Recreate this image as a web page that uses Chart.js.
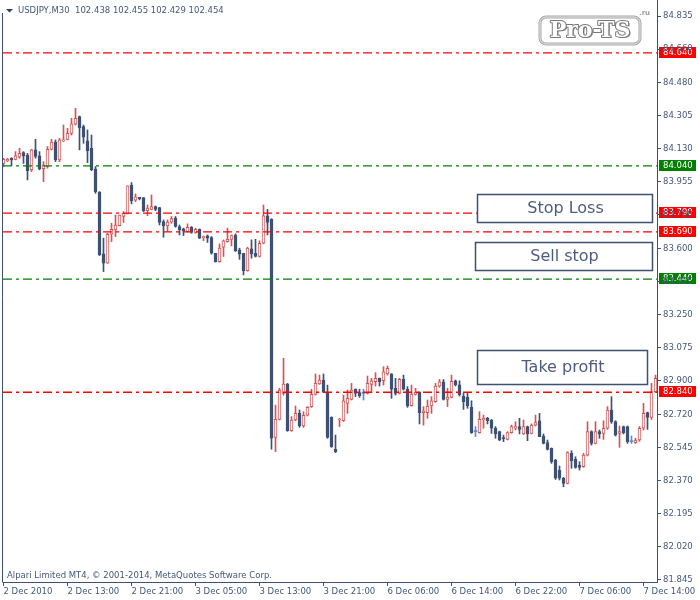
<!DOCTYPE html>
<html>
<head>
<meta charset="utf-8">
<script src="https://cdn.jsdelivr.net/npm/chart.js@4.4.1/dist/chart.umd.min.js"></script>
<style>
html,body{margin:0;padding:0;background:#ffffff;}
#wrap{width:700px;height:600px;position:relative;}
canvas{display:block;}
</style>
</head>
<body>
<div id="wrap"><canvas id="c" width="700" height="600"></canvas></div>
<script>
// ---------- DATA ----------
const symbolTitle = "USDJPY,M30  102.438 102.455 102.429 102.454";
const copyrightText = "Alpari Limited MT4, \u00A9 2001-2014, MetaQuotes Software Corp.";

const timeLabels = ["2 Dec 2010","2 Dec 13:00","2 Dec 21:00","3 Dec 05:00","3 Dec 13:00","3 Dec 21:00",
                    "6 Dec 06:00","6 Dec 14:00","6 Dec 22:00","7 Dec 06:00","7 Dec 14:00"];
const labelBars = [0,16,32,48,64,80,96,112,128,144,160];

const open = [84.054,84.067,84.081,84.075,84.086,84.111,84.098,84.019,84.125,84.093,
84.026,84.037,84.128,84.166,84.072,84.173,84.181,84.213,84.261,84.302,
84.249,84.173,84.134,84.024,83.901,83.574,83.524,83.678,83.701,83.724,
83.772,83.786,83.939,83.858,83.874,83.872,83.803,83.810,83.825,83.819,
83.745,83.722,83.742,83.763,83.719,83.706,83.692,83.715,83.687,83.704,
83.660,83.669,83.660,83.577,83.533,83.609,83.639,83.651,83.674,83.595,
83.577,83.485,83.600,83.577,83.560,83.630,83.775,83.757,82.601,82.696,
82.834,82.884,82.636,82.693,82.728,82.661,82.718,82.764,82.829,82.884,
82.905,82.840,82.707,82.537,82.693,82.689,82.781,82.802,82.856,82.838,
82.834,82.834,82.882,82.896,82.914,82.901,82.937,82.937,82.861,82.834,
82.908,82.856,82.769,82.829,82.840,82.732,82.732,82.767,82.790,82.873,
82.896,82.802,82.813,82.901,82.879,82.820,82.813,82.760,82.631,82.626,
82.693,82.702,82.693,82.649,82.631,82.598,82.590,82.626,82.649,82.658,
82.619,82.658,82.622,82.666,82.688,82.608,82.573,82.543,82.481,82.428,
82.384,82.357,82.516,82.484,82.454,82.445,82.507,82.631,82.569,82.631,
82.622,82.649,82.746,82.684,82.622,82.658,82.658,82.578,82.573,82.587,
82.649,82.732,82.707,82.843];

const high = [84.081,84.081,84.084,84.116,84.134,84.116,84.107,84.128,84.181,84.116,
84.063,84.143,84.181,84.178,84.187,84.257,84.240,84.293,84.346,84.305,
84.257,84.231,84.204,84.037,83.904,83.657,83.683,83.736,83.780,83.780,
83.798,83.934,83.952,83.892,83.874,83.872,83.833,83.886,83.828,83.821,
83.754,83.754,83.772,83.772,83.727,83.710,83.733,83.719,83.710,83.706,
83.669,83.674,83.666,83.577,83.627,83.648,83.710,83.674,83.680,83.604,
83.577,83.609,83.648,83.651,83.643,83.833,83.810,83.760,82.772,82.861,
83.020,82.887,82.711,82.767,82.746,82.737,82.764,82.856,82.937,82.931,
82.937,82.878,82.710,82.613,82.702,82.825,82.852,82.887,82.858,82.856,
82.856,82.926,82.914,82.944,82.916,82.976,82.979,82.940,82.914,82.914,
82.931,82.870,82.878,82.861,82.843,82.764,82.799,82.817,82.887,82.908,
82.908,82.861,82.931,82.905,82.901,82.834,82.834,82.795,82.658,82.737,
82.719,82.707,82.696,82.658,82.634,82.613,82.631,82.666,82.684,82.702,
82.693,82.661,82.672,82.719,82.728,82.619,82.587,82.545,82.484,82.449,
82.389,82.525,82.530,82.498,82.472,82.516,82.684,82.636,82.684,82.640,
82.689,82.764,82.817,82.689,82.661,82.661,82.661,82.608,82.596,82.658,
82.781,82.735,82.887,82.931];

const low = [84.037,84.063,84.042,84.072,84.081,84.054,83.966,84.010,84.081,84.019,
83.957,84.028,84.125,84.063,84.063,84.169,84.178,84.204,84.257,84.125,
84.160,84.058,84.015,83.895,83.565,83.480,83.524,83.639,83.666,83.722,
83.740,83.786,83.839,83.851,83.860,83.798,83.777,83.807,83.803,83.727,
83.662,83.692,83.736,83.715,83.674,83.671,83.690,83.683,83.683,83.655,
83.644,83.634,83.572,83.530,83.530,83.560,83.636,83.616,83.586,83.545,
83.462,83.482,83.551,83.557,83.557,83.627,83.674,82.538,82.525,82.693,
82.825,82.633,82.633,82.689,82.654,82.654,82.714,82.760,82.825,82.882,
82.838,82.596,82.548,82.520,82.658,82.686,82.728,82.799,82.817,82.813,
82.799,82.831,82.838,82.873,82.873,82.878,82.931,82.808,82.825,82.831,
82.852,82.760,82.766,82.825,82.672,82.666,82.702,82.728,82.787,82.866,
82.799,82.764,82.810,82.873,82.820,82.749,82.755,82.622,82.605,82.623,
82.649,82.672,82.622,82.596,82.583,82.578,82.587,82.623,82.640,82.619,
82.616,82.583,82.619,82.661,82.605,82.566,82.534,82.463,82.378,82.375,
82.339,82.354,82.437,82.437,82.428,82.442,82.502,82.560,82.566,82.596,
82.590,82.643,82.675,82.608,82.548,82.619,82.569,82.569,82.569,82.580,
82.640,82.643,82.696,82.838];

const close = [84.075,84.075,84.072,84.093,84.107,84.093,84.015,84.125,84.090,84.024,
84.044,84.128,84.166,84.072,84.178,84.178,84.213,84.263,84.293,84.243,
84.192,84.121,84.019,83.904,83.568,83.524,83.678,83.704,83.727,83.780,
83.789,83.934,83.855,83.876,83.867,83.802,83.817,83.825,83.810,83.740,
83.722,83.743,83.761,83.719,83.701,83.696,83.715,83.687,83.704,83.657,
83.664,83.657,83.577,83.533,83.604,83.643,83.651,83.671,83.591,83.572,
83.485,83.604,83.574,83.560,83.630,83.775,83.740,82.596,82.696,82.852,
82.884,82.636,82.693,82.728,82.661,82.718,82.760,82.829,82.887,82.905,
82.840,82.601,82.552,82.525,82.696,82.795,82.808,82.852,82.834,82.822,
82.834,82.887,82.900,82.914,82.896,82.949,82.967,82.856,82.834,82.908,
82.856,82.767,82.831,82.840,82.732,82.741,82.767,82.795,82.873,82.896,
82.802,82.815,82.898,82.879,82.826,82.790,82.767,82.626,82.631,82.696,
82.702,82.689,82.649,82.619,82.587,82.594,82.626,82.658,82.658,82.643,
82.658,82.619,82.666,82.679,82.605,82.569,82.537,82.472,82.384,82.384,
82.357,82.520,82.477,82.442,82.442,82.507,82.631,82.569,82.631,82.619,
82.649,82.746,82.684,82.613,82.631,82.626,82.578,82.578,82.587,82.649,
82.728,82.707,82.843,82.914];

const priceTicks = [84.835,84.660,84.480,84.305,84.130,83.955,83.780,83.600,83.425,
                    83.250,83.075,82.900,82.720,82.545,82.370,82.195,82.020,81.845];

const levelPrices = [84.640, 84.040, 83.790, 83.690, 83.440, 82.840];
const levelKinds  = ["red", "green", "red", "red", "green", "red"];

const boxTexts = ["Stop Loss", "Sell stop", "Take profit"];

// ---------- STYLE ----------
const TXT = '#44587a';
const AXIS = '#3e5172';
const BULL = '#cd5656';
const BEAR = '#3e5172';
const DOJI = '#5b8bd8';
const LEVEL_COL = {red: '#ff0000', green: '#008000'};
const X_MIN = -0.125, X_MAX = 163.375;
const Y_MIN = 81.834, Y_MAX = 84.904;
const FS = 8.5;

const idx = open.map((_, i) => i);
const isDoji = idx.map(i => close[i] === open[i]);
const isBull = idx.map(i => close[i] > open[i]);
const lineCol = idx.map(i => isDoji[i] ? DOJI : (isBull[i] ? BULL : BEAR));
const bodyFill = idx.map(i => isDoji[i] ? DOJI : (isBull[i] ? '#ffffff' : BEAR));
const bodyBW = idx.map(i => isDoji[i] ? 0 : 1);

const levelSets = levelPrices.map((p, k) => ({
  type: 'line',
  data: [{x: X_MIN, y: p}, {x: X_MAX, y: p}],
  borderColor: LEVEL_COL[levelKinds[k]],
  borderWidth: 1.3,
  borderDash: [9, 4, 3, 4],
  pointRadius: 0,
  fill: false,
  tension: 0,
  order: 0
}));

const deco = {
  id: 'mt4deco',
  beforeDraw(chart) {
    const ctx = chart.ctx;
    const ys = chart.scales.y;
    ctx.save();
    ctx.fillStyle = '#ffffff';
    ctx.fillRect(0, 0, chart.width, chart.height);
    ctx.font = FS + "px 'DejaVu Sans'";
    ctx.textBaseline = 'middle';
    ctx.textAlign = 'left';
    levelPrices.forEach((p, k) => {
      const y = Math.round(ys.getPixelForValue(p));
      ctx.fillStyle = LEVEL_COL[levelKinds[k]];
      ctx.fillRect(659, y - 6, 37, 11);
      ctx.fillStyle = '#ffffff';
      ctx.fillText(p.toFixed(3), 663, y);
    });
    ctx.restore();
  },
  afterDraw(chart) {
    const ctx = chart.ctx;
    const a = chart.chartArea;
    ctx.save();
    // frame lines
    ctx.strokeStyle = AXIS;
    ctx.lineWidth = 1;
    ctx.beginPath();
    ctx.moveTo(a.left - 0.5, 13);
    ctx.lineTo(a.left - 0.5, a.bottom + 0.5);
    ctx.moveTo(a.right + 0.5, 0);
    ctx.lineTo(a.right + 0.5, a.top);
    ctx.stroke();

    // header
    ctx.fillStyle = '#2e3f5c';
    ctx.beginPath();
    ctx.moveTo(6, 9); ctx.lineTo(13, 9); ctx.lineTo(9.5, 12.5); ctx.closePath();
    ctx.fill();
    ctx.font = FS + "px 'DejaVu Sans'";
    ctx.fillStyle = TXT;
    ctx.textBaseline = 'middle';
    ctx.textAlign = 'left';
    ctx.fillText(symbolTitle, 18, 10.5);
    ctx.fillText(copyrightText, 7, 575.5);

    // text boxes
    const boxes = [[477, 194, 175, 28], [475, 242, 177, 28], [477, 350, 170, 34]];
    ctx.font = "16px 'DejaVu Sans'";
    ctx.textAlign = 'center';
    boxes.forEach((b, k) => {
      ctx.fillStyle = '#ffffff';
      ctx.fillRect(b[0], b[1], b[2], b[3]);
      ctx.strokeStyle = AXIS;
      ctx.lineWidth = 1.5;
      ctx.strokeRect(b[0] + 0.5, b[1] + 0.5, b[2], b[3]);
      ctx.fillStyle = '#4d5b7d';
      ctx.fillText(boxTexts[k], b[0] + b[2] / 2 + 1, b[1] + b[3] / 2 + 1);
    });

    // logo
    const lx = 540, ly = 17, lw = 100, lh = 27, r = 6;
    ctx.beginPath();
    ctx.moveTo(lx + r, ly);
    ctx.arcTo(lx + lw, ly, lx + lw, ly + lh, r);
    ctx.arcTo(lx + lw, ly + lh, lx, ly + lh, r);
    ctx.arcTo(lx, ly + lh, lx, ly, r);
    ctx.arcTo(lx, ly, lx + lw, ly, r);
    ctx.closePath();
    ctx.fillStyle = '#ffffff';
    ctx.fill();
    ctx.lineWidth = 3;
    ctx.strokeStyle = '#a8a8a8';
    ctx.stroke();
    ctx.lineWidth = 1;
    ctx.strokeStyle = '#e6e6e6';
    ctx.stroke();
    ctx.font = "bold 22px 'DejaVu Serif'";
    ctx.textAlign = 'center';
    ctx.textBaseline = 'middle';
    ctx.lineJoin = 'round';
    ctx.fillStyle = '#8a8a8a';
    ctx.fillText('Pro-TS', 591.5, 32.5);
    ctx.lineWidth = 2;
    ctx.strokeStyle = '#7a7a7a';
    ctx.strokeText('Pro-TS', 590, 31);
    ctx.fillStyle = '#ffffff';
    ctx.fillText('Pro-TS', 590, 31);
    ctx.font = "bold 7px 'DejaVu Sans'";
    ctx.fillStyle = '#9a9a9a';
    ctx.textAlign = 'left';
    ctx.fillText('.ru', 639, 13);
    ctx.restore();
  }
};

Chart.defaults.font.family = "'DejaVu Sans', sans-serif";
Chart.defaults.font.size = FS;

new Chart(document.getElementById('c'), {
  type: 'bar',
  data: {
    datasets: [
      ...levelSets,
      {
        label: 'body',
        data: idx.map(i => ({x: i, y: [open[i], close[i]]})),
        backgroundColor: bodyFill,
        borderColor: lineCol,
        borderWidth: bodyBW,
        borderSkipped: false,
        barThickness: 3,
        minBarLength: 1,
        grouped: false,
        order: 1
      },
      {
        label: 'wick',
        data: idx.map(i => ({x: i, y: [low[i], high[i]]})),
        backgroundColor: lineCol,
        borderWidth: 0,
        barThickness: 1,
        minBarLength: 1,
        grouped: false,
        order: 2
      }
    ]
  },
  options: {
    responsive: false,
    devicePixelRatio: 1,
    animation: false,
    events: [],
    layout: {padding: {left: 3, top: 3, right: 0, bottom: 0}},
    plugins: {legend: {display: false}, tooltip: {enabled: false}},
    scales: {
      x: {
        type: 'linear',
        min: X_MIN, max: X_MAX,
        offset: false,
        afterBuildTicks: s => { s.ticks = labelBars.map(v => ({value: v})); },
        afterFit: s => { s.height = 18; s.paddingLeft = 0; s.paddingRight = 0; },
        ticks: {
          callback: (v, i) => timeLabels[i],
          align: 'start', maxRotation: 0, minRotation: 0, autoSkip: false,
          padding: 1, color: TXT, font: {size: FS}
        },
        grid: {display: true, drawOnChartArea: false, drawTicks: true, tickLength: 4, color: AXIS, offset: false},
        border: {display: true, color: AXIS, width: 1}
      },
      y: {
        type: 'linear',
        position: 'right',
        min: Y_MIN, max: Y_MAX,
        afterBuildTicks: s => { s.ticks = priceTicks.map(v => ({value: v})); },
        afterFit: s => { s.width = 43; s.paddingTop = 0; s.paddingBottom = 0; },
        ticks: {
          callback: v => Number(v).toFixed(3),
          autoSkip: false, padding: 2, color: TXT, font: {size: FS}
        },
        grid: {display: true, drawOnChartArea: false, drawTicks: true, tickLength: 4, color: AXIS},
        border: {display: true, color: AXIS, width: 1}
      }
    }
  },
  plugins: [deco]
});
</script>
</body>
</html>
